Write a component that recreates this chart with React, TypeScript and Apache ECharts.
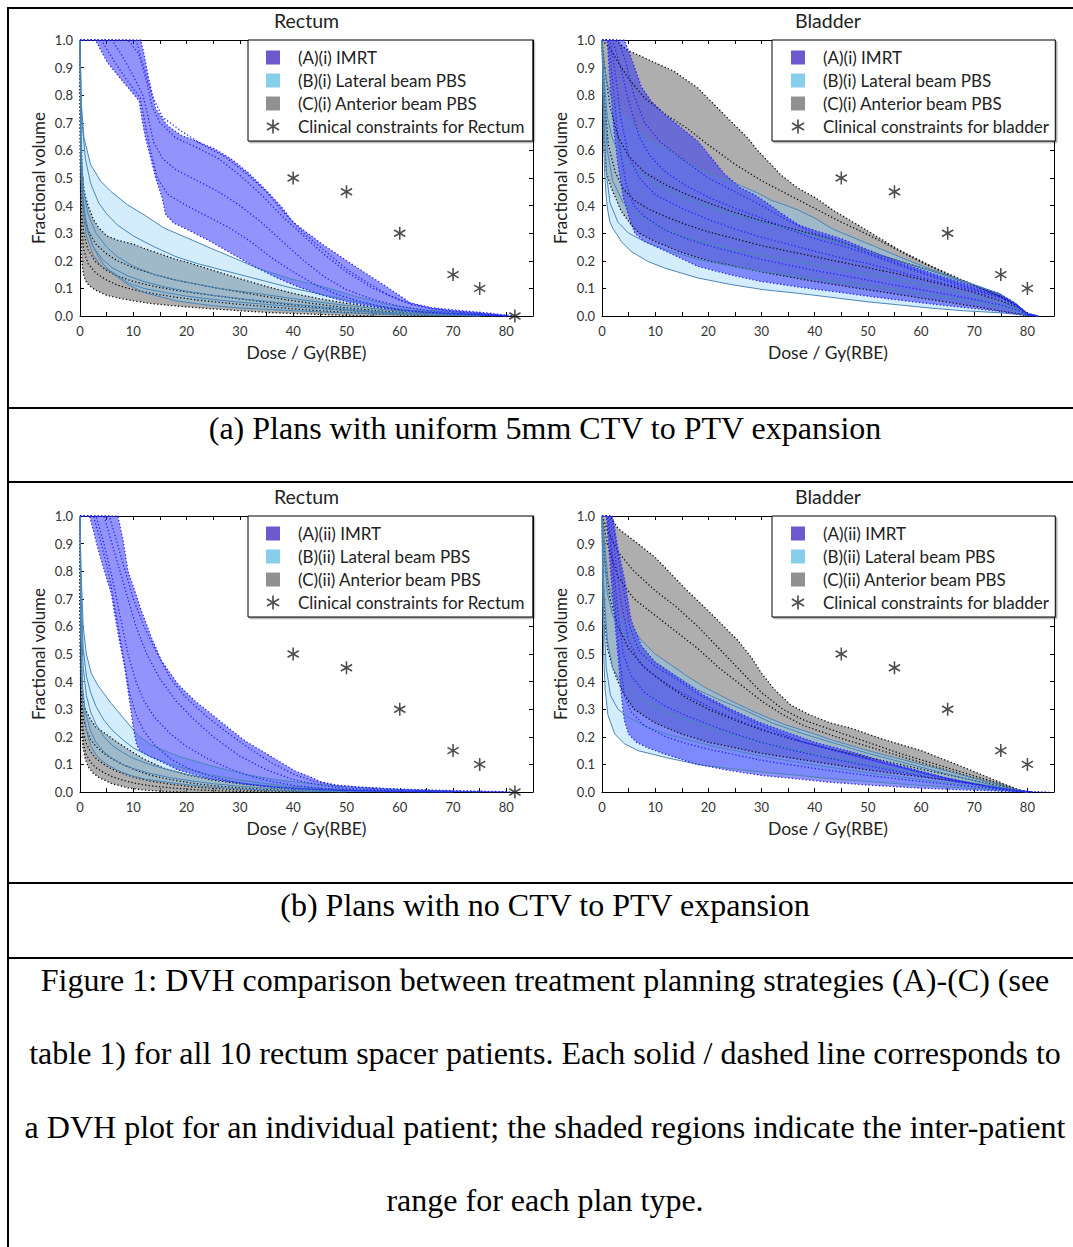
import React, { useEffect, useRef } from "react";
import * as echarts from "echarts";

// ---------------- clinical constraints ----------------
const rectumConstraints = [[40, 0.5], [50, 0.45], [60, 0.3], [70, 0.15], [75, 0.1], [81.6, 0]];
const bladderConstraints = [[45, 0.5], [55, 0.45], [65, 0.3], [75, 0.15], [80, 0.1]];

// ---------------- (a) 5mm expansion, Rectum ----------------
const aRecImrtUpper = [[0,1],[11.4,1],[12,0.95],[12.9,0.86],[14.2,0.75],[16.4,0.69],[18.9,0.655],[22,0.632],[25.1,0.607],[28.3,0.57],[31.4,0.522],[34.5,0.464],[37.6,0.4],[40,0.34],[45.6,0.258],[52,0.175],[58,0.1],[62,0.047],[66,0.03],[70.6,0.021],[77,0.01],[80,0.003],[82,0]];
const aRecImrtLower = [[0,1],[2.9,1],[5.1,0.92],[7.6,0.86],[9.8,0.81],[11.1,0.78],[11.7,0.705],[12.3,0.645],[13.1,0.585],[14.2,0.5],[15.4,0.43],[16.1,0.367],[17.6,0.337],[20.8,0.307],[24.5,0.27],[28.3,0.228],[32.6,0.18],[37,0.138],[40.8,0.107],[45,0.078],[50,0.052],[55,0.034],[60,0.02],[65,0.012],[70,0.007],[75,0.003],[80,0]];
const aRecImrtP1 = [[0,1],[9,1],[11,0.95],[12.5,0.85],[13.5,0.76],[15,0.7],[18,0.645],[22,0.61],[26,0.57],[30,0.51],[34,0.44],[38,0.36],[42,0.29],[46,0.22],[50,0.16],[55,0.1],[60,0.058],[65,0.03],[70,0.016],[76,0.007],[80,0]];
const aRecImrtP2 = [[0,1],[6,1],[8,0.94],[10,0.87],[11.8,0.8],[12.8,0.72],[13.8,0.63],[15.5,0.57],[18,0.53],[22,0.49],[26,0.45],[30,0.4],[34,0.34],[38,0.27],[42,0.2],[46,0.14],[50,0.095],[55,0.06],[60,0.035],[65,0.02],[70,0.011],[76,0.004],[80,0]];
const aRecImrtP3 = [[0,1],[4,1],[6.5,0.92],[9,0.85],[11.3,0.79],[12.2,0.7],[13.2,0.6],[14.5,0.5],[16.5,0.44],[20,0.4],[24,0.36],[28,0.32],[32,0.27],[36,0.21],[40,0.16],[44,0.115],[48,0.08],[52,0.055],[56,0.037],[60,0.024],[65,0.014],[70,0.008],[76,0.003],[79,0]];
const aRecImrtP4 = [[0,1],[10.5,1],[12,0.9],[13.5,0.8],[15.5,0.72],[19,0.67],[23,0.62],[27,0.58],[31,0.52],[35,0.45],[38,0.38],[42,0.3],[46,0.235],[50,0.17],[54,0.12],[58,0.075],[62,0.042],[66,0.027],[70,0.018],[76,0.008],[80,0.001]];
const aRecLatUpper = [[0,1],[0.25,0.77],[0.75,0.645],[2,0.548],[3.9,0.488],[5.75,0.452],[8.9,0.403],[12,0.367],[15.75,0.319],[20.1,0.283],[24.5,0.246],[28.9,0.21],[33.25,0.174],[39.4,0.135],[45.6,0.106],[51.9,0.07],[58.1,0.04],[64.4,0.022],[73.75,0.01],[80,0]];
const aRecLatLower = [[0,1],[0.15,0.65],[0.5,0.45],[1,0.36],[1.5,0.31],[2.3,0.26],[3.3,0.22],[4.5,0.185],[6,0.155],[9,0.114],[12,0.085],[18,0.055],[24.5,0.038],[30,0.029],[40,0.019],[50,0.011],[60,0.005],[70,0.002],[75,0]];
const aRecLatP1 = [[0,1],[0.3,0.72],[1,0.57],[2,0.48],[3.5,0.41],[5,0.37],[7,0.33],[10,0.29],[14,0.25],[18,0.215],[22,0.19],[26,0.17],[30,0.15],[35,0.125],[40,0.1],[45,0.08],[50,0.058],[56,0.036],[62,0.02],[70,0.009],[78,0.002],[80,0]];
const aRecLatP2 = [[0,1],[0.2,0.6],[0.7,0.45],[1.5,0.37],[3,0.3],[5,0.25],[7,0.215],[10,0.18],[14,0.15],[18,0.13],[22,0.115],[26,0.1],[30,0.09],[35,0.077],[40,0.063],[45,0.05],[50,0.038],[56,0.025],[62,0.014],[70,0.006],[78,0]];
const aRecLatP3 = [[0,1],[0.2,0.55],[0.6,0.4],[1.2,0.32],[2.5,0.25],[4,0.21],[6,0.175],[9,0.145],[12,0.125],[16,0.105],[20,0.09],[25,0.075],[30,0.063],[35,0.053],[40,0.043],[46,0.032],[52,0.022],[58,0.013],[65,0.006],[72,0.002],[76,0]];
const aRecLatP4 = [[0,1],[0.2,0.5],[0.6,0.37],[1.2,0.29],[2.5,0.22],[4,0.18],[6,0.16],[9,0.12],[12,0.1],[16,0.085],[20,0.072],[25,0.06],[30,0.05],[35,0.042],[40,0.034],[46,0.025],[52,0.017],[58,0.01],[65,0.005],[72,0.001],[75,0]];
const aRecAntUpper = [[0,1],[0.15,0.7],[0.4,0.52],[0.8,0.45],[1.5,0.4],[2.5,0.35],[3.5,0.32],[5,0.29],[7,0.275],[10,0.26],[12,0.245],[15,0.225],[18,0.205],[20,0.195],[25,0.165],[30,0.135],[35,0.107],[40,0.082],[45,0.062],[50,0.046],[55,0.033],[60,0.022],[65,0.014],[70,0.007],[75,0.003],[80,0]];
const aRecAntLower = [[0,1],[0.05,0.6],[0.15,0.32],[0.35,0.2],[0.6,0.155],[1,0.13],[1.5,0.115],[2.4,0.1],[3.5,0.088],[5,0.075],[7.5,0.064],[10,0.055],[13,0.046],[17,0.038],[20,0.033],[24,0.027],[30,0.019],[36,0.012],[43,0.007],[50,0.002],[55,0]];
const aRecAntP1 = [[0,1],[0.1,0.65],[0.3,0.47],[0.7,0.38],[1.5,0.31],[3,0.26],[5,0.225],[7,0.2],[10,0.175],[14,0.15],[18,0.13],[22,0.115],[26,0.1],[30,0.087],[35,0.07],[40,0.055],[45,0.042],[50,0.03],[56,0.019],[62,0.011],[70,0.004],[76,0]];
const aRecAntP2 = [[0,1],[0.1,0.55],[0.3,0.38],[0.7,0.3],[1.5,0.24],[3,0.195],[5,0.165],[7,0.145],[10,0.125],[14,0.107],[18,0.093],[22,0.082],[26,0.072],[30,0.062],[35,0.05],[40,0.04],[45,0.03],[50,0.021],[56,0.013],[62,0.007],[70,0.002],[74,0]];
const aRecAntP3 = [[0,1],[0.1,0.5],[0.3,0.32],[0.7,0.24],[1.5,0.19],[3,0.155],[5,0.13],[7,0.112],[10,0.095],[14,0.08],[18,0.068],[22,0.058],[26,0.05],[30,0.042],[35,0.034],[40,0.026],[45,0.019],[50,0.013],[56,0.007],[62,0.003],[68,0]];

// ---------------- (a) 5mm expansion, Bladder ----------------
const aBlaImrtUpper = [[0,1],[4.2,1],[5.5,0.935],[7.4,0.83],[9.2,0.78],[11.8,0.73],[15,0.68],[18,0.633],[20.5,0.575],[23,0.515],[26,0.465],[28.6,0.44],[31,0.41],[33.5,0.375],[37,0.33],[40,0.31],[45,0.28],[50,0.24],[56,0.195],[62,0.155],[68,0.12],[74.6,0.082],[77,0.055],[79.6,0.012],[81,0]];
const aBlaImrtLower = [[0,1],[1,1],[1.5,0.85],[2.2,0.68],[3,0.55],[4,0.43],[5.2,0.35],[6.2,0.3],[8,0.27],[12,0.235],[18,0.18],[24,0.15],[30,0.125],[37,0.105],[45,0.085],[50,0.072],[55,0.06],[60,0.048],[65,0.037],[70,0.027],[75,0.016],[78,0.006],[80,0.001],[81,0]];
const aBlaImrtP1 = [[0,1],[2,1],[3.5,0.9],[5,0.78],[7,0.65],[9,0.58],[12,0.52],[16,0.47],[20,0.43],[25,0.39],[30,0.355],[35,0.315],[40,0.28],[45,0.255],[50,0.225],[55,0.19],[60,0.155],[65,0.125],[70,0.095],[75,0.068],[78,0.038],[80,0.007],[82,0]];
const aBlaImrtP2 = [[0,1],[1.5,1],[2.5,0.88],[3.5,0.72],[5,0.58],[7,0.5],[10,0.44],[15,0.39],[20,0.35],[25,0.315],[30,0.285],[35,0.26],[40,0.235],[45,0.21],[50,0.19],[55,0.165],[60,0.14],[65,0.115],[70,0.092],[75,0.065],[78,0.035],[80,0.006],[82,0]];
const aBlaImrtP3 = [[0,1],[1.2,1],[2,0.85],[3,0.65],[4.5,0.48],[6,0.4],[8,0.36],[12,0.31],[16,0.28],[20,0.255],[25,0.23],[30,0.205],[35,0.185],[40,0.165],[45,0.148],[50,0.13],[55,0.112],[60,0.095],[65,0.078],[70,0.06],[75,0.04],[78,0.022],[80,0.004],[82,0]];
const aBlaImrtP4 = [[0,1],[3,1],[4.5,0.92],[6,0.8],[8,0.7],[11,0.63],[15,0.57],[20,0.5],[25,0.45],[30,0.4],[35,0.345],[40,0.3],[45,0.27],[50,0.23],[55,0.195],[60,0.16],[65,0.13],[70,0.1],[75,0.072],[78,0.04],[80,0.01],[82,0]];
const aBlaLatUpper = [[0,1],[0.3,0.93],[1,0.84],[2,0.78],[3.5,0.74],[5.5,0.7],[8,0.65],[11.75,0.61],[15,0.57],[18,0.536],[21,0.51],[24.25,0.488],[27,0.465],[29.25,0.446],[31.75,0.42],[34,0.405],[36.75,0.385],[40,0.355],[43.4,0.315],[49.65,0.265],[55.9,0.215],[62.15,0.167],[68.4,0.124],[74.65,0.082],[77.8,0.046],[80.3,0.004],[82,0]];
const aBlaLatLower = [[0,1],[0.15,0.85],[0.3,0.62],[0.5,0.52],[0.8,0.43],[1.1,0.38],[1.5,0.34],[2.1,0.315],[3,0.29],[3.6,0.27],[5.5,0.234],[8.6,0.198],[11.75,0.174],[18,0.138],[24.25,0.114],[30.5,0.095],[37,0.082],[43,0.068],[49.65,0.052],[56,0.04],[62.15,0.028],[68,0.019],[74.65,0.012],[78,0.006],[80,0.002],[82,0]];
const aBlaLatP1 = [[0,1],[0.3,0.88],[1,0.72],[2,0.64],[4,0.57],[7,0.52],[10,0.48],[15,0.43],[20,0.395],[25,0.365],[30,0.34],[35,0.315],[40,0.29],[45,0.265],[50,0.235],[55,0.205],[60,0.175],[65,0.145],[70,0.112],[75,0.075],[78,0.042],[80,0.008],[82,0]];
const aBlaLatP2 = [[0,1],[0.3,0.82],[1,0.6],[2,0.49],[4,0.41],[7,0.36],[10,0.33],[15,0.29],[20,0.262],[25,0.24],[30,0.22],[35,0.203],[40,0.187],[45,0.17],[50,0.153],[55,0.135],[60,0.115],[65,0.095],[70,0.072],[75,0.048],[78,0.028],[80,0.006],[82,0]];
const aBlaLatP3 = [[0,1],[0.3,0.75],[0.8,0.52],[1.5,0.41],[3,0.34],[5,0.3],[8,0.27],[12,0.24],[18,0.205],[25,0.178],[30,0.162],[40,0.135],[50,0.11],[60,0.082],[70,0.052],[75,0.034],[78,0.02],[80,0.004],[82,0]];
const aBlaAntUpper = [[0,1],[2.5,1],[4.6,0.965],[8.6,0.93],[13.6,0.886],[18,0.826],[21.1,0.766],[24.25,0.705],[27.4,0.645],[29.25,0.6],[31,0.565],[33.6,0.512],[36.75,0.464],[40,0.43],[43.4,0.384],[49.65,0.312],[55.9,0.239],[62.15,0.179],[67.8,0.13],[71,0.105],[74.65,0.075],[78,0.036],[80.3,0.004],[82,0]];
const aBlaAntLower = [[0,1],[0.2,0.85],[0.4,0.65],[0.8,0.52],[1.75,0.464],[3.6,0.38],[5.5,0.33],[7,0.3],[10,0.27],[15,0.23],[20,0.2],[30,0.16],[40,0.125],[50,0.095],[60,0.065],[70,0.035],[75,0.018],[80,0.003],[82,0]];
const aBlaAntP1 = [[0,1],[1.5,0.97],[3,0.92],[5,0.86],[8,0.79],[12,0.73],[16,0.68],[20,0.62],[25,0.55],[30,0.49],[35,0.44],[40,0.39],[45,0.34],[50,0.295],[55,0.245],[60,0.195],[65,0.15],[70,0.11],[75,0.07],[78,0.038],[80,0.008],[82,0]];
const aBlaAntP2 = [[0,1],[0.5,0.9],[1.5,0.76],[3,0.65],[5,0.58],[8,0.52],[12,0.475],[16,0.44],[20,0.41],[25,0.375],[30,0.345],[35,0.32],[40,0.295],[45,0.265],[50,0.235],[55,0.205],[60,0.175],[65,0.145],[70,0.112],[75,0.072],[78,0.04],[80,0.008],[82,0]];
const aBlaAntP3 = [[0,1],[0.4,0.8],[1.2,0.62],[2.5,0.52],[4,0.46],[6,0.42],[9,0.385],[12,0.36],[16,0.33],[20,0.305],[25,0.28],[30,0.255],[35,0.235],[40,0.215],[45,0.195],[50,0.175],[55,0.155],[60,0.133],[65,0.11],[70,0.085],[75,0.055],[78,0.03],[80,0.006],[82,0]];

// ---------------- (b) no expansion, Rectum ----------------
const bRecImrtUpper = [[0,1],[7.1,1],[8.1,0.91],[9,0.8],[10.25,0.73],[11.5,0.657],[13.4,0.56],[15.25,0.476],[18.4,0.39],[21.5,0.331],[24.6,0.283],[27.75,0.234],[30.9,0.186],[34,0.15],[37.1,0.114],[40.25,0.077],[43.4,0.053],[45,0.038],[48,0.025],[52,0.018],[60,0.01],[70,0.005],[80,0.001],[82,0]];
const bRecImrtLower = [[0,1],[1.8,1],[3.4,0.88],[4.6,0.8],[5.9,0.717],[6.5,0.645],[7.4,0.548],[8.4,0.452],[9.3,0.33],[10,0.234],[10.6,0.174],[11.2,0.15],[13,0.13],[15.25,0.11],[18.4,0.08],[24.6,0.047],[30.9,0.029],[37.1,0.017],[43.4,0.01],[50,0.005],[60,0.002],[70,0]];
const bRecImrtP1 = [[0,1],[4.5,1],[6,0.9],[7.5,0.8],[9,0.7],[10.5,0.6],[12.5,0.5],[15,0.41],[18,0.33],[21,0.27],[25,0.2],[30,0.13],[35,0.08],[40,0.045],[45,0.025],[50,0.013],[60,0.006],[70,0.002],[80,0]];
const bRecImrtP2 = [[0,1],[3,1],[4.5,0.9],[6,0.78],[7.5,0.64],[9,0.5],[10.5,0.4],[12,0.33],[14,0.27],[17,0.21],[20,0.165],[24,0.12],[28,0.085],[32,0.058],[36,0.038],[40,0.024],[45,0.014],[50,0.008],[60,0.003],[70,0]];
const bRecImrtP3 = [[0,1],[5.5,1],[7,0.9],[8.5,0.8],[10,0.7],[12,0.6],[14,0.52],[17,0.41],[20,0.34],[24,0.27],[28,0.21],[32,0.155],[36,0.105],[40,0.065],[44,0.038],[48,0.024],[55,0.014],[65,0.006],[75,0.002],[80,0]];
const bRecImrtP4 = [[0,1],[2.5,1],[4,0.9],[5.5,0.78],[7,0.62],[8.2,0.48],[9.3,0.36],[10.5,0.28],[12,0.22],[14,0.17],[17,0.12],[20,0.088],[24,0.06],[28,0.04],[32,0.027],[36,0.018],[40,0.012],[50,0.005],[60,0.002],[70,0]];
const bRecLatUpper = [[0,1],[0.2,0.8],[0.6,0.6],[1.2,0.5],[2.1,0.43],[3.4,0.385],[5.9,0.32],[8.4,0.262],[10.9,0.205],[13.4,0.17],[18.4,0.13],[24.6,0.095],[30.9,0.064],[37,0.044],[43.4,0.03],[50,0.019],[60,0.009],[70,0.003],[75,0]];
const bRecLatLower = [[0,1],[0.1,0.65],[0.25,0.42],[0.5,0.32],[0.9,0.26],[1.5,0.2],[2.1,0.165],[3,0.135],[4,0.115],[5.5,0.095],[7.1,0.078],[9.5,0.06],[12.1,0.047],[18.4,0.03],[24.6,0.018],[30.9,0.01],[37,0.005],[45,0.002],[50,0]];
const bRecLatP1 = [[0,1],[0.2,0.72],[0.6,0.52],[1.2,0.42],[2,0.36],[3,0.31],[4.5,0.26],[6,0.225],[8,0.19],[10,0.16],[13,0.13],[17,0.1],[21,0.078],[25,0.06],[30,0.043],[35,0.03],[40,0.02],[50,0.009],[60,0.003],[70,0]];
const bRecLatP2 = [[0,1],[0.2,0.66],[0.6,0.45],[1.2,0.35],[2,0.29],[3,0.245],[4.5,0.2],[6,0.17],[8,0.143],[10,0.122],[13,0.1],[17,0.078],[21,0.06],[25,0.046],[30,0.033],[35,0.023],[40,0.015],[50,0.006],[60,0.002],[65,0]];
const bRecLatP3 = [[0,1],[0.15,0.6],[0.5,0.38],[1,0.29],[2,0.22],[3,0.18],[4.5,0.145],[6,0.122],[8,0.1],[10,0.085],[13,0.068],[17,0.052],[21,0.04],[25,0.03],[30,0.021],[35,0.014],[40,0.009],[50,0.003],[60,0]];
const bRecAntUpper = [[0,1],[0.05,0.7],[0.15,0.5],[0.3,0.38],[0.6,0.33],[1,0.3],[2,0.262],[3,0.235],[5.25,0.205],[7,0.18],[9,0.155],[12.1,0.118],[15.9,0.085],[20,0.063],[25,0.043],[30,0.03],[35,0.02],[40,0.013],[50,0.005],[60,0.001],[65,0]];
const bRecAntLower = [[0,1],[0.05,0.55],[0.12,0.35],[0.25,0.25],[0.55,0.16],[1,0.12],[1.5,0.092],[2.5,0.068],[3.5,0.053],[6,0.03],[9,0.015],[12,0.007],[16,0.002],[20,0]];
const bRecAntP1 = [[0,1],[0.05,0.62],[0.15,0.42],[0.35,0.31],[0.7,0.26],[1.2,0.225],[2,0.19],[3,0.165],[4.5,0.14],[6,0.12],[8,0.1],[10,0.083],[13,0.062],[17,0.045],[21,0.032],[25,0.023],[30,0.015],[35,0.009],[40,0.005],[50,0]];
const bRecAntP2 = [[0,1],[0.05,0.6],[0.15,0.38],[0.35,0.27],[0.7,0.21],[1.2,0.175],[2,0.145],[3,0.122],[4.5,0.1],[6,0.083],[8,0.067],[10,0.054],[13,0.04],[17,0.028],[21,0.019],[25,0.013],[30,0.008],[35,0.004],[42,0]];
const bRecAntP3 = [[0,1],[0.05,0.58],[0.15,0.35],[0.35,0.23],[0.7,0.17],[1.2,0.135],[2,0.108],[3,0.088],[4.5,0.07],[6,0.056],[8,0.043],[10,0.033],[13,0.023],[17,0.015],[21,0.009],[25,0.005],[30,0.002],[35,0]];

// ---------------- (b) no expansion, Bladder ----------------
const bBlaImrtUpper = [[0,1],[2,1],[3,0.88],[4.25,0.77],[5.5,0.62],[7.4,0.53],[10,0.47],[13,0.43],[16,0.39],[19.25,0.35],[24.25,0.3],[29.25,0.255],[34.25,0.22],[40,0.18],[43,0.165],[48,0.14],[53,0.11],[60,0.075],[66,0.045],[72,0.022],[76,0.009],[80,0.002],[84,0]];
const bBlaImrtLower = [[0,1],[0.8,1],[1.2,0.9],[1.75,0.77],[2.5,0.6],[3.2,0.45],[3.7,0.34],[4.2,0.26],[5,0.21],[6.5,0.18],[8.6,0.16],[11.75,0.138],[18,0.1],[24,0.078],[30,0.06],[37,0.047],[43,0.035],[50,0.025],[60,0.014],[70,0.006],[75,0.003],[80,0]];
const bBlaImrtP1 = [[0,1],[1.5,1],[2.5,0.85],[3.5,0.7],[5,0.55],[7,0.47],[10,0.42],[14,0.37],[18,0.33],[22,0.29],[27,0.25],[32,0.215],[38,0.18],[44,0.148],[50,0.118],[56,0.09],[62,0.062],[68,0.036],[74,0.016],[78,0.005],[81,0]];
const bBlaImrtP2 = [[0,1],[1.2,1],[2,0.85],[3,0.65],[4,0.5],[5.5,0.42],[8,0.36],[12,0.31],[16,0.275],[20,0.245],[25,0.21],[30,0.18],[36,0.15],[42,0.125],[50,0.095],[56,0.073],[62,0.052],[68,0.032],[74,0.014],[78,0.004],[81,0]];
const bBlaImrtP3 = [[0,1],[1,1],[1.8,0.85],[2.6,0.65],[3.4,0.47],[4.2,0.35],[5.5,0.29],[8,0.24],[12,0.2],[16,0.175],[20,0.155],[25,0.135],[30,0.115],[36,0.097],[42,0.08],[50,0.06],[56,0.047],[62,0.034],[68,0.022],[74,0.01],[78,0.003],[81,0]];
const bBlaImrtP4 = [[0,1],[1.8,1],[2.8,0.88],[4,0.74],[5.2,0.6],[7,0.51],[10,0.455],[14,0.41],[18,0.355],[22,0.315],[27,0.265],[32,0.225],[38,0.18],[44,0.15],[50,0.12],[56,0.09],[62,0.06],[68,0.035],[74,0.015],[78,0.005],[81,0]];
const bBlaLatUpper = [[0,1],[0.3,0.95],[1.1,0.77],[2.4,0.66],[4,0.62],[5.5,0.6],[7.4,0.55],[10,0.5],[13,0.46],[16,0.42],[19.25,0.38],[24.25,0.33],[29.25,0.285],[34.25,0.245],[40,0.21],[43,0.19],[50,0.15],[55,0.125],[60,0.1],[65,0.075],[70,0.05],[75,0.025],[78,0.008],[80,0]];
const bBlaLatLower = [[0,1],[0.15,0.7],[0.3,0.5],[0.6,0.37],[1.1,0.28],[2.4,0.21],[4.2,0.175],[6.75,0.15],[12,0.125],[18,0.1],[24,0.085],[30,0.072],[37,0.06],[43,0.048],[50,0.038],[60,0.024],[70,0.012],[75,0.006],[80,0]];
const bBlaLatP1 = [[0,1],[0.3,0.88],[1,0.72],[2,0.64],[3.5,0.59],[5,0.56],[7,0.52],[10,0.47],[14,0.42],[18,0.37],[22,0.335],[27,0.295],[32,0.25],[38,0.21],[44,0.175],[50,0.14],[56,0.11],[62,0.08],[68,0.05],[74,0.022],[78,0.006],[80,0]];
const bBlaLatP2 = [[0,1],[0.3,0.75],[1,0.55],[2,0.45],[3.5,0.4],[5,0.37],[8,0.33],[12,0.29],[16,0.26],[20,0.235],[25,0.205],[30,0.18],[36,0.155],[42,0.13],[50,0.1],[56,0.08],[62,0.06],[68,0.04],[74,0.018],[78,0.005],[80,0]];
const bBlaLatP3 = [[0,1],[0.3,0.65],[0.8,0.45],[1.6,0.35],[3,0.3],[5,0.27],[8,0.24],[12,0.21],[16,0.19],[20,0.17],[25,0.15],[30,0.13],[36,0.11],[42,0.092],[50,0.07],[56,0.055],[62,0.04],[68,0.026],[74,0.012],[78,0.003],[80,0]];
const bBlaAntUpper = [[0,1],[1.5,1],[3,0.955],[6.75,0.9],[10,0.85],[13,0.79],[16,0.73],[19.25,0.67],[22.4,0.61],[25.5,0.55],[28,0.49],[30,0.43],[32.5,0.37],[35.5,0.315],[39,0.28],[43,0.25],[47,0.23],[53,0.19],[60,0.15],[66,0.105],[72,0.058],[76,0.026],[79,0.003],[81,0]];
const bBlaAntLower = [[0,1],[0.2,0.8],[0.5,0.62],[1,0.52],[2,0.45],[3,0.4],[4,0.36],[6,0.3],[10,0.25],[15,0.21],[20,0.18],[30,0.14],[40,0.11],[50,0.08],[60,0.055],[70,0.03],[75,0.015],[78,0.005],[80,0]];
const bBlaAntP1 = [[0,1],[1,0.95],[3,0.87],[6,0.8],[10,0.73],[14,0.67],[18,0.6],[22,0.52],[26,0.44],[30,0.36],[34,0.3],[38,0.26],[44,0.22],[50,0.18],[56,0.14],[62,0.105],[68,0.07],[74,0.035],[78,0.01],[80,0]];
const bBlaAntP2 = [[0,1],[1,0.9],[3,0.78],[6,0.7],[10,0.64],[14,0.58],[18,0.52],[22,0.45],[26,0.39],[30,0.33],[34,0.28],[38,0.24],[44,0.2],[50,0.165],[56,0.13],[62,0.095],[68,0.062],[74,0.03],[78,0.008],[80,0]];
const bBlaAntP3 = [[0,1],[0.5,0.85],[1.5,0.7],[3,0.6],[5,0.52],[8,0.45],[12,0.39],[16,0.34],[20,0.3],[25,0.26],[30,0.225],[36,0.19],[42,0.16],[50,0.125],[56,0.1],[62,0.075],[68,0.05],[74,0.025],[78,0.007],[80,0]];

// ---------------- texts ----------------
const panelTitles = ["Rectum", "Bladder", "Rectum", "Bladder"];
const xAxisTitle = "Dose / Gy(RBE)";
const yAxisTitle = "Fractional volume";
const captionA = "(a) Plans with uniform 5mm CTV to PTV expansion";
const captionB = "(b) Plans with no CTV to PTV expansion";
const figureCaption = [
  "Figure 1: DVH comparison between treatment planning strategies (A)-(C) (see",
  "table 1) for all 10 rectum spacer patients. Each solid / dashed line corresponds to",
  "a DVH plot for an individual patient; the shaded regions indicate the inter-patient",
  "range for each plan type.",
];

const STAR =
  "path://M-0.12 -1L-0.12 1L0.12 1L0.12 -1Z M0.806 0.604L0.926 0.396L-0.806 -0.604L-0.926 -0.396Z M-0.926 0.396L-0.806 0.604L0.926 -0.396L0.806 -0.604Z";

const FONT = "Lato";
const SERIF = '"Liberation Serif", "Times New Roman", serif';

const panels = [
  {
    left: 80, top: 40, width: 453, legendLeft: 248, tag: "(i)",
    constraintName: "Clinical constraints for Rectum", constraints: rectumConstraints,
    imrt: [aRecImrtUpper, aRecImrtLower, [aRecImrtP1, aRecImrtP2, aRecImrtP3, aRecImrtP4]],
    lat: [aRecLatUpper, aRecLatLower, [aRecLatP1, aRecLatP2, aRecLatP3, aRecLatP4]],
    ant: [aRecAntUpper, aRecAntLower, [aRecAntP1, aRecAntP2, aRecAntP3]],
  },
  {
    left: 602, top: 40, width: 452, legendLeft: 772, tag: "(i)",
    constraintName: "Clinical constraints for bladder", constraints: bladderConstraints,
    imrt: [aBlaImrtUpper, aBlaImrtLower, [aBlaImrtP1, aBlaImrtP2, aBlaImrtP3, aBlaImrtP4]],
    lat: [aBlaLatUpper, aBlaLatLower, [aBlaLatP1, aBlaLatP2, aBlaLatP3]],
    ant: [aBlaAntUpper, aBlaAntLower, [aBlaAntP1, aBlaAntP2, aBlaAntP3]],
  },
  {
    left: 80, top: 516, width: 453, legendLeft: 248, tag: "(ii)",
    constraintName: "Clinical constraints for Rectum", constraints: rectumConstraints,
    imrt: [bRecImrtUpper, bRecImrtLower, [bRecImrtP1, bRecImrtP2, bRecImrtP3, bRecImrtP4]],
    lat: [bRecLatUpper, bRecLatLower, [bRecLatP1, bRecLatP2, bRecLatP3]],
    ant: [bRecAntUpper, bRecAntLower, [bRecAntP1, bRecAntP2, bRecAntP3]],
  },
  {
    left: 602, top: 516, width: 452, legendLeft: 772, tag: "(ii)",
    constraintName: "Clinical constraints for bladder", constraints: bladderConstraints,
    imrt: [bBlaImrtUpper, bBlaImrtLower, [bBlaImrtP1, bBlaImrtP2, bBlaImrtP3, bBlaImrtP4]],
    lat: [bBlaLatUpper, bBlaLatLower, [bBlaLatP1, bBlaLatP2, bBlaLatP3]],
    ant: [bBlaAntUpper, bBlaAntLower, [bBlaAntP1, bBlaAntP2, bBlaAntP3]],
  },
];

const PLOT_H = 276;

function bandSeries(name: string, upper: number[][], lower: number[][], fill: string, legendColor: string, ai: number) {
  return {
    type: "custom",
    name,
    xAxisIndex: ai,
    yAxisIndex: ai,
    data: upper,
    silent: true,
    clip: true,
    z: 1,
    itemStyle: { color: legendColor },
    renderItem: (params: any, api: any) => {
      if (params.dataIndex !== 0) return null;
      const pts = upper.map((p) => api.coord(p)).concat(lower.slice().reverse().map((p) => api.coord(p)));
      return { type: "polygon", shape: { points: pts }, style: { fill, stroke: "none" } };
    },
  };
}

function lineSeries(data: number[][], color: string, dotted: boolean, ai: number, z: number) {
  return {
    type: "line",
    data,
    xAxisIndex: ai,
    yAxisIndex: ai,
    symbol: "none",
    showSymbol: false,
    silent: true,
    legendHoverLink: false,
    z,
    lineStyle: { color, width: dotted ? 1.3 : 1, type: dotted ? [1.3, 2.2] : "solid" },
  };
}

function buildOption() {
  const grid: any[] = [];
  const xAxis: any[] = [];
  const yAxis: any[] = [];
  const series: any[] = [];
  const legend: any[] = [];
  const graphic: any[] = [];

  const axisLine = { show: true, onZero: false, lineStyle: { color: "#000", width: 1 } };
  const tick = { show: true, inside: true, length: 4, lineStyle: { color: "#000", width: 1 } };

  panels.forEach((p, i) => {
    grid.push({ left: p.left, top: p.top, width: p.width, height: PLOT_H, show: false, containLabel: false, outerBoundsMode: "none" });
    const base = {
      type: "value", gridIndex: i, min: 0, max: 85, interval: 5,
      axisLine, axisTick: tick, splitLine: { show: false },
    };
    xAxis.push({
      ...base, position: "bottom",
      axisLabel: { fontSize: 13, color: "#333", margin: 8, fontFamily: FONT, formatter: (v: number) => (v % 10 === 0 ? String(v) : "") },
      name: xAxisTitle, nameLocation: "middle", nameGap: 27,
      nameTextStyle: { fontSize: 17.5, color: "#222", fontFamily: FONT },
    });
    xAxis.push({ ...base, position: "top", axisLabel: { show: false } });
    const ybase = {
      type: "value", gridIndex: i, min: 0, max: 1, interval: 0.1,
      axisLine, axisTick: tick, splitLine: { show: false },
    };
    yAxis.push({
      ...ybase, position: "left",
      axisLabel: { fontSize: 13, color: "#333", margin: 7, fontFamily: FONT, formatter: (v: number) => v.toFixed(1) },
      name: yAxisTitle, nameLocation: "middle", nameGap: 33,
      nameTextStyle: { fontSize: 17, color: "#222", fontFamily: FONT },
    });
    yAxis.push({ ...ybase, position: "right", axisLabel: { show: false } });

    const ai = 2 * i;
    const nImrt = `(A)${p.tag} IMRT`;
    const nLat = `(B)${p.tag} Lateral beam PBS`;
    const nAnt = `(C)${p.tag} Anterior beam PBS`;

    series.push(bandSeries(nAnt, p.ant[0] as number[][], p.ant[1] as number[][], "rgba(128,128,128,0.64)", "#919191", ai));
    series.push(bandSeries(nLat, p.lat[0] as number[][], p.lat[1] as number[][], "rgba(135,206,250,0.36)", "#87ceeb", ai));
    series.push(bandSeries(nImrt, p.imrt[0] as number[][], p.imrt[1] as number[][], "rgba(40,40,250,0.5)", "#6a5acd", ai));

    const antLines = [p.ant[0], p.ant[1], ...(p.ant[2] as number[][][])] as number[][][];
    const latLines = [p.lat[0], p.lat[1], ...(p.lat[2] as number[][][])] as number[][][];
    const imrtLines = [p.imrt[0], p.imrt[1], ...(p.imrt[2] as number[][][])] as number[][][];
    antLines.forEach((d) => series.push(lineSeries(d, "#111", true, ai, 2)));
    latLines.forEach((d) => series.push(lineSeries(d, "#4a86b8", false, ai, 3)));
    imrtLines.forEach((d) => series.push(lineSeries(d, "#2424ff", true, ai, 4)));

    series.push({
      type: "scatter",
      name: p.constraintName,
      xAxisIndex: ai,
      yAxisIndex: ai,
      data: p.constraints,
      symbol: STAR,
      symbolSize: [12, 13],
      clip: false,
      silent: true,
      z: 5,
      itemStyle: { color: "#222" },
    });

    const isLeft = p.legendLeft === 248;
    legend.push({
      show: true,
      orient: "vertical",
      left: p.legendLeft,
      top: p.top,
      itemWidth: 14,
      itemHeight: 14,
      itemGap: 6,
      padding: [9, isLeft ? 8 : 6, 6, isLeft ? 18 : 19],
      backgroundColor: "#fff",
      borderColor: "#000",
      borderWidth: 1,
      borderRadius: 0,
      shadowColor: "rgba(0,0,0,0.35)",
      shadowBlur: 1,
      shadowOffsetX: 1.5,
      shadowOffsetY: 1.5,
      selectedMode: false,
      z: 10,
      textStyle: { fontFamily: FONT, fontSize: 17, color: "#222", lineHeight: 16, padding: [0, 0, 0, 13] },
      data: [
        { name: nImrt, icon: "rect", itemStyle: { color: "#6a5acd", borderWidth: 0 } },
        { name: nLat, icon: "rect", itemStyle: { color: "#87ceeb", borderWidth: 0 } },
        { name: nAnt, icon: "rect", itemStyle: { color: "#919191", borderWidth: 0 } },
        { name: p.constraintName, icon: STAR, itemStyle: { color: "#222", borderWidth: 0 } },
      ],
    });

    graphic.push({
      type: "text",
      x: p.left + p.width / 2,
      y: p.top - 20,
      style: {
        text: panelTitles[i],
        font: `19.5px ${FONT}`,
        fill: "#222",
        align: "center",
        verticalAlign: "middle",
        textAlign: "center",
        textVerticalAlign: "middle",
      },
    });
  });

  // table rules of the figure layout
  const hLines = [8, 408, 482, 883, 958];
  hLines.forEach((y) =>
    graphic.push({ type: "line", shape: { x1: 8, y1: y, x2: 1073, y2: y }, style: { stroke: "#000", lineWidth: 2 } })
  );
  graphic.push({ type: "line", shape: { x1: 8, y1: 7, x2: 8, y2: 1247 }, style: { stroke: "#000", lineWidth: 2 } });

  const captionText = (text: string, y: number) => ({
    type: "text",
    x: 545,
    y,
    style: {
      text,
      font: `32px ${SERIF}`,
      fill: "#000",
      align: "center",
      verticalAlign: "middle",
      textAlign: "center",
      textVerticalAlign: "middle",
    },
  });
  graphic.push(captionText(captionA, 428));
  graphic.push(captionText(captionB, 905));
  const capY = [980, 1053, 1127, 1200];
  figureCaption.forEach((t, k) => graphic.push(captionText(t, capY[k])));

  return {
    animation: false,
    backgroundColor: "#fff",
    textStyle: { fontFamily: FONT },
    grid,
    xAxis,
    yAxis,
    series,
    legend,
    graphic,
    tooltip: { show: false },
  };
}

export default function App() {
  const ref = useRef<HTMLDivElement>(null);
  useEffect(() => {
    if (!ref.current) return;
    const chart = echarts.init(ref.current, undefined, { renderer: "svg" });
    chart.setOption(buildOption() as any);
    return () => chart.dispose();
  }, []);
  return (
    <div
      ref={ref}
      style={{ position: "absolute", left: 0, top: 0, width: 1073, height: 1247, background: "#fff" }}
    />
  );
}
